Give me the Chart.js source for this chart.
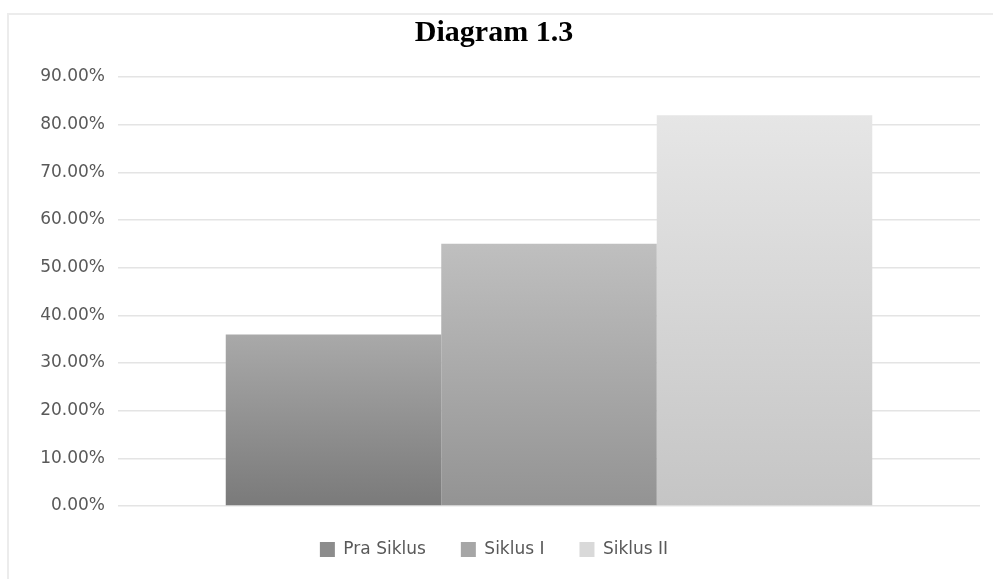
<!DOCTYPE html>
<html>
<head>
<meta charset="utf-8">
<script src="https://cdn.jsdelivr.net/npm/chart.js@4"></script>
<style>
  html, body { margin: 0; padding: 0; background: #ffffff; }
  #wrap { width: 993px; height: 579px; }
</style>
</head>
<body>
<div id="wrap"><canvas id="diagram"></canvas></div>
<script>
const titleText = 'Diagram 1.3';
const categories = [''];
const seriesNames = ['Pra Siklus', 'Siklus I', 'Siklus II'];
const seriesValues = [36, 55, 82];
const yMax = 90;
const yStep = 10;

// top/bottom shade of each bar's vertical gradient
const shades = [
    ['#a9a9a9', '#7a7a7a'],
    ['#bfbfbf', '#939393'],
    ['#e6e6e6', '#c5c5c5']
];
const legendShades = ['#8c8c8c', '#a6a6a6', '#d9d9d9'];

function barGradient(ctx) {
    const { chart, datasetIndex, dataIndex } = ctx;
    const { chartArea, scales } = chart;
    const [top, bottom] = shades[datasetIndex];
    if (!chartArea || !scales.y) return bottom;
    const value = chart.data.datasets[datasetIndex].data[dataIndex];
    const y0 = scales.y.getPixelForValue(value);
    const y1 = scales.y.getPixelForValue(0);
    const g = chart.ctx.createLinearGradient(0, y0, 0, y1);
    g.addColorStop(0, top);
    g.addColorStop(1, bottom);
    return g;
}

// thin grey frame along the top and left edge
const chartFrame = {
    id: 'chartFrame',
    beforeDraw(chart) {
        const { ctx } = chart;
        ctx.save();
        ctx.strokeStyle = '#ececec';
        ctx.lineWidth = 2;
        ctx.beginPath();
        ctx.moveTo(8, chart.height);
        ctx.lineTo(8, 14);
        ctx.lineTo(chart.width, 14);
        ctx.stroke();
        ctx.restore();
    }
};

new Chart(document.getElementById('diagram'), {
    type: 'bar',
    plugins: [chartFrame],
    data: {
        labels: categories,
        datasets: seriesNames.map((name, i) => ({
            label: name,
            data: [seriesValues[i]],
            backgroundColor: barGradient,
            borderWidth: 0,
            barPercentage: 1,
            categoryPercentage: 0.75
        }))
    },
    options: {
        responsive: true,
        maintainAspectRatio: false,
        animation: false,
        layout: {
            padding: { left: 8, right: 13, top: 6, bottom: 11 }
        },
        scales: {
            x: {
                // single unnamed category, nothing to label
                afterFit: scale => { scale.height = 0; },
                border: { display: false },
                grid: { display: false },
                ticks: { display: false }
            },
            y: {
                min: 0,
                max: yMax,
                afterFit: scale => { scale.width = 110; },
                border: { display: false },
                grid: {
                    color: '#e4e4e4',
                    lineWidth: 1.5,
                    drawTicks: false
                },
                ticks: {
                    stepSize: yStep,
                    padding: 13,
                    color: '#595959',
                    font: { family: 'DejaVu Sans', size: 17 },
                    callback: value => value.toFixed(2) + '%'
                }
            }
        },
        plugins: {
            title: {
                display: true,
                text: titleText,
                color: '#000000',
                font: { family: 'Liberation Serif', size: 30, weight: 'bold' },
                padding: { top: 9, bottom: 26 }
            },
            legend: {
                position: 'bottom',
                labels: {
                    boxWidth: 15,
                    boxHeight: 15,
                    padding: 35,
                    color: '#595959',
                    font: { family: 'DejaVu Sans', size: 17 },
                    generateLabels: chart => Chart.defaults.plugins.legend.labels
                        .generateLabels(chart)
                        .map((item, i) => Object.assign(item, {
                            fillStyle: legendShades[i],
                            strokeStyle: legendShades[i],
                            lineWidth: 0
                        }))
                }
            },
            tooltip: { enabled: false }
        }
    }
});
</script>
</body>
</html>
